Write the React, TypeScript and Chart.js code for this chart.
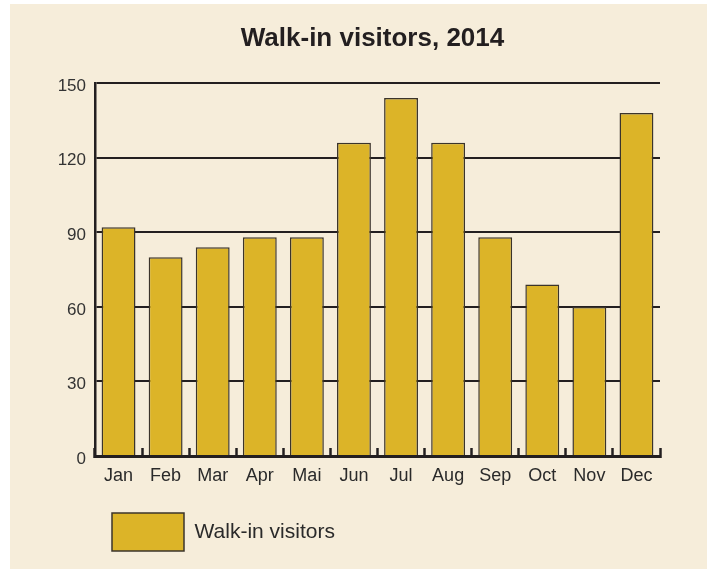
import React, { useEffect, useRef } from "react";
import { Chart, registerables } from "chart.js";

Chart.register(...registerables);

const categories = ["Jan", "Feb", "Mar", "Apr", "Mai", "Jun", "Jul", "Aug", "Sep", "Oct", "Nov", "Dec"];
const visitors = [92, 80, 84, 88, 88, 126, 144, 126, 88, 69, 60, 138];
const seriesLabel = "Walk-in visitors";
const chartTitle = "Walk-in visitors, 2014";
const yMin = 0;
const yMax = 150;
const yStep = 30;

const BG = "#F6EDDA";
const BAR = "#DCB428";
const BAR_BORDER = "#3b342b";
const INK = "#231f20";
const FONT = "'Liberation Sans', Arial, sans-serif";

const titleShift = {
  id: "titleShift",
  afterLayout(chart: any) {
    const tb = chart.titleBlock;
    if (tb) {
      tb.left -= 10;
    }
  },
};

export default function App() {
  const ref = useRef<HTMLCanvasElement | null>(null);

  useEffect(() => {
    if (!ref.current) return;
    const chart = new Chart(ref.current, {
      type: "bar",
      data: {
        labels: categories,
        datasets: [
          {
            label: seriesLabel,
            data: visitors,
            backgroundColor: BAR,
            borderColor: BAR_BORDER,
            borderWidth: 1.5,
            barPercentage: 0.72,
            categoryPercentage: 1,
          },
        ],
      },
      plugins: [titleShift],
      options: {
        responsive: false,
        animation: false,
        layout: { padding: { left: 40, right: 47, top: 0, bottom: 8 } },
        plugins: {
          tooltip: { enabled: false },
          title: {
            display: true,
            text: chartTitle,
            color: INK,
            fullSize: false,
            font: { family: FONT, size: 26, weight: "bold", lineHeight: 1.2 },
            padding: { top: 19, bottom: 29 },
          },
          legend: {
            display: true,
            position: "bottom",
            align: "start",
            fullSize: false,
            labels: {
              boxWidth: 72,
              boxHeight: 38,
              padding: 17,
              color: "#2a2a2a",
              font: { family: FONT, size: 21 },
            },
          },
        },
        scales: {
          x: {
            grid: {
              display: true,
              offset: true,
              drawOnChartArea: false,
              drawTicks: true,
              tickLength: -8,
              tickWidth: 2.5,
              tickColor: INK,
            },
            border: { display: true, color: INK, width: 3 },
            ticks: {
              color: "#2a2a2a",
              font: { family: FONT, size: 18 },
              padding: 17,
            },
            afterFit: (scale: any) => {
              scale.height = 40;
            },
          },
          y: {
            min: yMin,
            max: yMax,
            ticks: {
              stepSize: yStep,
              color: "#333333",
              font: { family: FONT, size: 17 },
              padding: 9,
              labelOffset: 3,
            },
            grid: {
              color: INK,
              lineWidth: 2,
              drawTicks: false,
            },
            border: { display: true, color: INK, width: 2.5 },
            afterFit: (scale: any) => {
              scale.width = 45;
            },
          },
        },
      },
    });
    return () => chart.destroy();
  }, []);

  return (
    <div
      style={{
        position: "absolute",
        left: 10,
        top: 4,
        width: 697,
        height: 565,
        background: BG,
      }}
    >
      <canvas ref={ref} width={697} height={565} style={{ display: "block" }} />
    </div>
  );
}
